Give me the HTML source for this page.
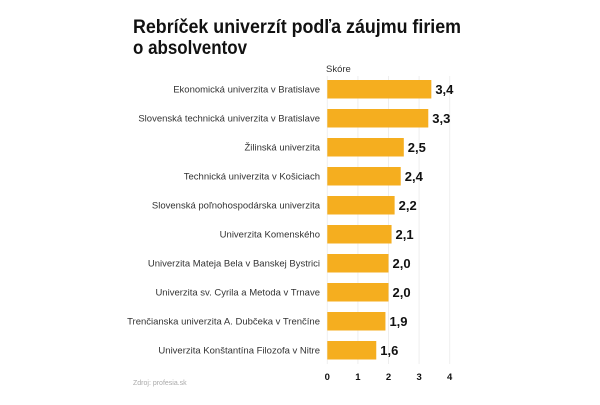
<!DOCTYPE html>
<html><head><meta charset="utf-8"><style>
body{margin:0;background:#fff;width:600px;height:400px;overflow:hidden;font-family:"Liberation Sans",sans-serif}
</style></head><body>
<svg width="600" height="400">
<text x="133" y="33" font-size="19" font-weight="bold" fill="#111" textLength="328" lengthAdjust="spacingAndGlyphs">Rebríček univerzít podľa záujmu firiem</text>
<text x="133" y="54" font-size="19" font-weight="bold" fill="#111" textLength="114" lengthAdjust="spacingAndGlyphs">o absolventov</text>
<text x="326" y="72" font-size="9.5" fill="#333">Skóre</text>
<g id="grid"></g><g id="bars"></g><g id="ticks"></g>
<text x="133" y="385" font-size="7" fill="#aaa">Zdroj: profesia.sk</text>
</svg>
<script>
const categories=["Ekonomická univerzita v Bratislave","Slovenská technická univerzita v Bratislave","Žilinská univerzita","Technická univerzita v Košiciach","Slovenská poľnohospodárska univerzita","Univerzita Komenského","Univerzita Mateja Bela v Banskej Bystrici","Univerzita sv. Cyrila a Metoda v Trnave","Trenčianska univerzita A. Dubčeka v Trenčíne","Univerzita Konštantína Filozofa v Nitre"];
const values=[3.4,3.3,2.5,2.4,2.2,2.1,2.0,2.0,1.9,1.6];
const ticks=[0,1,2,3,4];
const NS="http://www.w3.org/2000/svg";
const x=v=>327.3+v*30.6;
const y=i=>80+i*29;
function mk(t,a,p){const e=document.createElementNS(NS,t);for(const k in a)e.setAttribute(k,a[k]);document.getElementById(p).appendChild(e);return e;}
ticks.forEach(t=>{
 const l=mk('line',{x1:x(t),x2:x(t),y1:76,y2:364,stroke:'#eee','stroke-width':1},'grid');
 
 
 const tx=mk('text',{x:x(t),y:380,'font-size':9.5,'font-weight':'bold','text-anchor':'middle',fill:'#111'},'ticks');
 tx.textContent=t;
 
 
});
categories.forEach((c,i)=>{
 const lb=mk('text',{x:320,y:y(i)+12.5,'font-size':9.5,'text-anchor':'end',fill:'#333'},'bars');
 lb.textContent=c;
 
 
 const r=mk('rect',{x:x(0),y:y(i),width:x(values[i])-x(0),height:18.5,fill:'#f5ae1f'},'bars');
 
 
 const v=mk('text',{x:x(values[i])+4,y:y(i)+14,'font-size':13,'font-weight':'bold',fill:'#111'},'bars');
 v.textContent=values[i].toFixed(1).replace('.',',');
 
 
});
</script>
</body></html>
